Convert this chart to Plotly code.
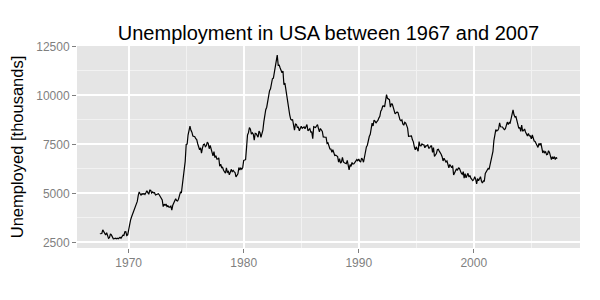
import pandas as pd
import plotly.graph_objects as go

# Monthly unemployment (thousands), July 1967 .. April 2007
start_month = "1967-07-01"
unemploy = [
    2944, 2945, 2958, 3143, 3066, 3018,
    2878, 3001, 2877, 2709, 2740, 2938, 2883, 2768, 2686, 2689, 2715, 2685,
    2718, 2692, 2712, 2758, 2713, 2816, 2868, 2856, 3040, 3049, 2856, 2884,
    3201, 3453, 3635, 3797, 3919, 4071, 4175, 4256, 4456, 4591, 4898, 5076,
    4986, 4903, 4987, 4959, 4996, 4949, 5035, 5134, 5042, 4954, 5161, 5154,
    5019, 5076, 5030, 5038, 4920, 4949, 4938, 4985, 4920, 4844, 4793, 4665,
    4326, 4452, 4394, 4459, 4329, 4363, 4305, 4305, 4350, 4144, 4396, 4489,
    4644, 4731, 4634, 4618, 4705, 4927, 5063, 5022, 5437, 5523, 6140, 6636,
    7501, 7520, 7978, 8210, 8433, 8220, 8127, 7928, 7923, 7897, 7794, 7744,
    7534, 7326, 7230, 7330, 7053, 7322, 7490, 7518, 7380, 7430, 7620, 7545,
    7280, 7443, 7307, 7059, 6911, 7134, 6829, 6925, 6751, 6763, 6815, 6386,
    6489, 6318, 6337, 6180, 6127, 6028, 6309, 6080, 6125, 5947, 6077, 6228,
    6109, 6173, 6109, 6069, 5840, 5959, 5996, 6320, 6190, 6296, 6238, 6325,
    6683, 6702, 6729, 7358, 7984, 8098, 8363, 8281, 8021, 8088, 8023, 7718,
    8071, 8051, 7982, 7869, 8174, 8098, 7863, 8036, 8230, 8646, 9029, 9267,
    9397, 9705, 9895, 10244, 10335, 10538, 10849, 10881, 11217, 11529, 11938, 12051,
    11534, 11545, 11408, 11268, 11154, 11246, 10548, 10623, 10282, 9887, 9499, 9331,
    9008, 8791, 8746, 8762, 8456, 8226, 8537, 8519, 8367, 8381, 8198, 8358,
    8423, 8321, 8339, 8395, 8302, 8460, 8513, 8196, 8248, 8298, 8128, 8138,
    7795, 8402, 8383, 8364, 8439, 8508, 8319, 8135, 8310, 8243, 8159, 7883,
    7892, 7865, 7862, 7542, 7574, 7398, 7268, 7261, 7102, 7227, 7035, 6936,
    6953, 6929, 6876, 6601, 6779, 6546, 6605, 6843, 6604, 6568, 6537, 6518,
    6682, 6359, 6205, 6468, 6375, 6577, 6495, 6511, 6590, 6630, 6725, 6667,
    6752, 6651, 6598, 6797, 6742, 6590, 6922, 7188, 7368, 7459, 7764, 7901,
    8015, 8265, 8586, 8439, 8736, 8692, 8586, 8666, 8722, 8842, 8931, 9198,
    9283, 9454, 9460, 9415, 9744, 10040, 9850, 9787, 9781, 9398, 9565, 9557,
    9325, 9183, 9056, 9110, 9149, 9121, 8930, 8763, 8714, 8750, 8542, 8477,
    8630, 8583, 8470, 8331, 7915, 7927, 7946, 7933, 7734, 7632, 7375, 7230,
    7375, 7187, 7153, 7645, 7430, 7427, 7527, 7484, 7478, 7328, 7426, 7423,
    7491, 7313, 7318, 7415, 7423, 7095, 7337, 6882, 6979, 7031, 7236, 7253,
    7158, 7102, 7000, 6873, 6655, 6799, 6655, 6608, 6656, 6454, 6308, 6476,
    6368, 6306, 6422, 5941, 6047, 6212, 6259, 6179, 6300, 6280, 6100, 6032,
    5976, 6111, 5783, 6004, 5796, 5951, 6025, 5838, 5915, 5778, 5716, 5653,
    5708, 5858, 5733, 5481, 5758, 5651, 5747, 5853, 5625, 5534, 5639, 5634,
    6023, 6089, 6141, 6271, 6226, 6484, 6583, 7042, 7142, 7694, 8003, 8258,
    8182, 8215, 8304, 8599, 8399, 8393, 8390, 8304, 8251, 8307, 8520, 8640,
    8520, 8618, 8588, 8842, 8957, 9266, 9011, 8896, 8921, 8732, 8576, 8317,
    8370, 8167, 8491, 8170, 8212, 8286, 8136, 7990, 7927, 8061, 7932, 7934,
    7784, 7980, 7737, 7672, 7651, 7524, 7406, 7345, 7553, 7453, 7566, 7279,
    7064, 7184, 7072, 7120, 6980, 7001, 7175, 7091, 6847, 6727, 6872, 6762,
    6878, 6729, 6838, 6773,
]
dates = pd.date_range(start_month, periods=len(unemploy), freq="MS")

x_ticks = ["1970-01-01", "1980-01-01", "1990-01-01", "2000-01-01"]
x_tick_labels = ["1970", "1980", "1990", "2000"]
y_ticks = [2500, 5000, 7500, 10000, 12500]
y_tick_labels = ["2500", "5000", "7500", "10000", "12500"]

title_text = "Unemployment in USA between 1967 and 2007"
y_title = "Unemployed [thousands]"

# ggplot-style 5% expansion of the data range
span = dates[-1] - dates[0]
x_range = [dates[0] - span * 0.05, dates[-1] + span * 0.05]
ymin, ymax = min(unemploy), max(unemploy)
yr = ymax - ymin
y_range = [ymin - 0.05 * yr, ymax + 0.05 * yr]

FONT = "Liberation Sans, Arial, sans-serif"

fig = go.Figure(
    go.Scatter(x=dates, y=unemploy, mode="lines",
               line=dict(color="black", width=1.2), hoverinfo="skip")
)

fig.update_layout(
    width=600, height=300,
    margin=dict(l=77, r=20, t=46, b=52),
    paper_bgcolor="white", plot_bgcolor="#E5E5E5",
    showlegend=False,
    font=dict(family=FONT, color="black"),
    title=dict(text=title_text, x=0.5, xref="paper", xanchor="center",
               y=1 - 33 / 300, yref="container", yanchor="middle",
               font=dict(size=20, color="black", family=FONT)),
)

fig.update_xaxes(
    type="date", range=x_range,
    tickmode="array", tickvals=x_ticks, ticktext=x_tick_labels,
    ticks="outside", ticklen=4, tickwidth=1, tickcolor="#7F7F7F",
    tickfont=dict(size=12, color="#7F7F7F", family=FONT),
    showgrid=True, gridcolor="white", gridwidth=1.6,
    minor=dict(showgrid=True, gridcolor="#F2F2F2", gridwidth=0.8,
               tickmode="array",
               tickvals=["1965-01-01", "1975-01-01", "1985-01-01", "1995-01-01", "2005-01-01"]),
    zeroline=False, showline=False,
)

fig.update_yaxes(
    range=y_range,
    tickmode="array", tickvals=y_ticks, ticktext=y_tick_labels,
    ticks="outside", ticklen=4, tickwidth=1, tickcolor="#7F7F7F",
    tickfont=dict(size=12, color="#7F7F7F", family=FONT),
    showgrid=True, gridcolor="white", gridwidth=1.6,
    minor=dict(showgrid=True, gridcolor="#F2F2F2", gridwidth=0.8,
               tickmode="array", tickvals=[3750, 6250, 8750, 11250]),
    zeroline=False, showline=False,
    title=dict(text=y_title, font=dict(size=16.5, color="black", family=FONT), standoff=8),
)

fig.write_html("out.html")
